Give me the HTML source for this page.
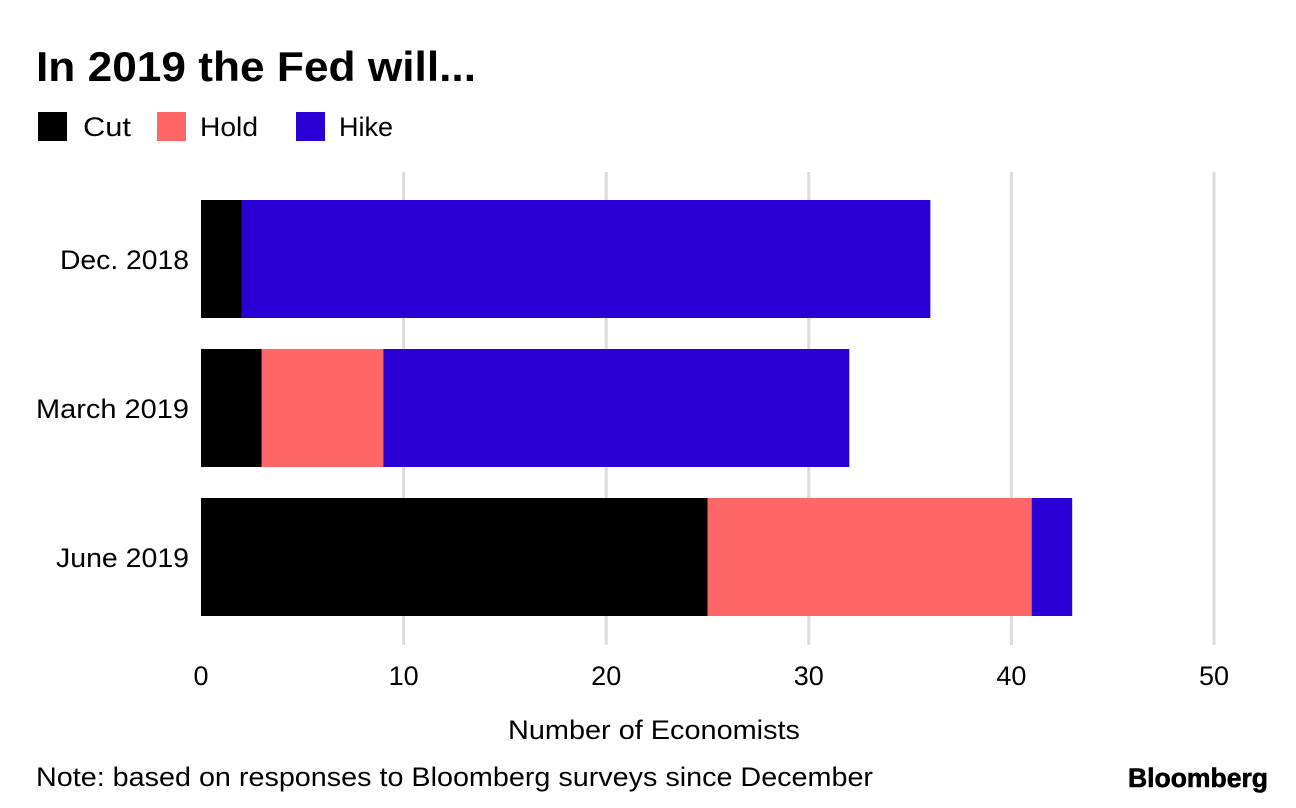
<!DOCTYPE html>
<html><head><meta charset="utf-8"><style>
body{margin:0;background:#fff;font-family:"Liberation Sans",Arial,sans-serif;}
svg{display:block}
</style></head><body>
<svg width="1296" height="808">
<text x="36" y="81" font-size="42" font-weight="bold" fill="#000" textLength="440" lengthAdjust="spacingAndGlyphs">In 2019 the Fed will...</text>
<g>
<rect x="38" y="112" width="29" height="29" fill="#000"/>
<text x="83" y="136" font-size="27" textLength="48" lengthAdjust="spacingAndGlyphs">Cut</text>
<rect x="157" y="112" width="29" height="29" fill="#ff6666"/>
<text x="200" y="136" font-size="27" textLength="58" lengthAdjust="spacingAndGlyphs">Hold</text>
<rect x="296" y="112" width="29" height="29" fill="#2a00d6"/>
<text x="339" y="136" font-size="27">Hike</text>
</g>
<g id="grid"></g>
<g id="bars"></g>
<g id="labels"></g>
<text x="508" y="739" font-size="27" textLength="292" lengthAdjust="spacingAndGlyphs">Number of Economists</text>
<text x="36" y="786" font-size="27" textLength="837" lengthAdjust="spacingAndGlyphs">Note: based on responses to Bloomberg surveys since December</text>
<text x="1128" y="787" font-size="27" font-weight="bold" textLength="140" lengthAdjust="spacingAndGlyphs" stroke="#000" stroke-width="0.6">Bloomberg</text>
</svg>
<script>
const categories=["Dec. 2018","March 2019","June 2019"];
const cut=[2,3,25];
const hold=[0,6,16];
const hike=[34,23,2];
const ticks=[0,10,20,30,40,50];
const ns="http://www.w3.org/2000/svg";
const x0=201,pxPer=20.26;
const xs=v=>x0+v*pxPer;
const rowY=i=>200+i*149;
const bh=118;
const labelW={"Dec. 2018":129,"March 2019":153,"June 2019":133};
function mk(t,a,p){const e=document.createElementNS(ns,t);for(const k in a)e.setAttribute(k,a[k]);p.appendChild(e);return e;}
const g=document.getElementById('grid'),b=document.getElementById('bars'),l=document.getElementById('labels');
ticks.forEach(t=>{
 if(t>0){const ln=mk('line',{x1:xs(t),x2:xs(t),y1:172,y2:645,stroke:'#dcdcdc','stroke-width':3},g);
 
 }
 const tx=mk('text',{x:xs(t),y:685,'font-size':27,'text-anchor':'middle'},l);tx.textContent=t;
 
 
});
const series=[[cut,'#000','cut'],[hold,'#ff6666','hold'],[hike,'#2a00d6','hike']];
categories.forEach((c,i)=>{
 let acc=0;
 series.forEach(([arr,col,nm])=>{
  const v=arr[i];
  if(v>0){const r=mk('rect',{x:xs(acc),y:rowY(i),width:xs(acc+v)-xs(acc),height:bh,fill:col},b);
  
  }
  acc+=v;
 });
 const w=labelW[c]||130;
 const tx=mk('text',{x:189-w,y:rowY(i)+bh/2+10,'font-size':27,textLength:w,lengthAdjust:'spacingAndGlyphs'},l);tx.textContent=c;
 
 
});
</script>
</body></html>
